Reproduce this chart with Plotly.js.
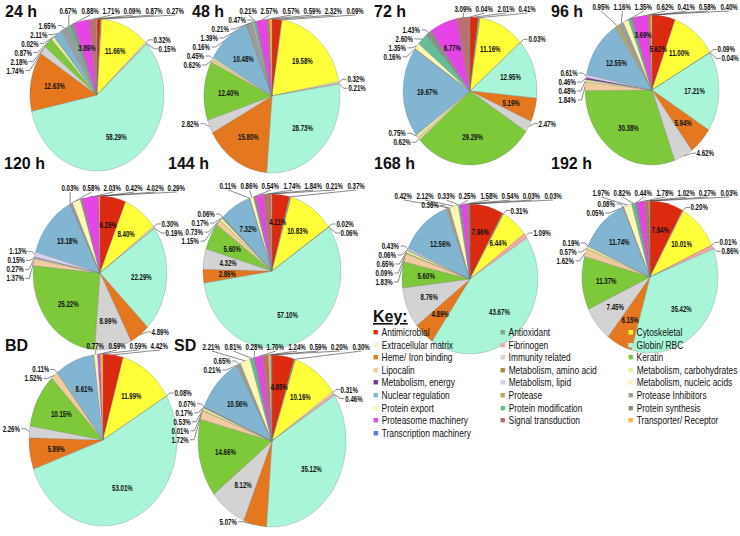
<!DOCTYPE html>
<html><head><meta charset="utf-8">
<script src="https://cdn.plot.ly/plotly-3.0.1.min.js"></script>
<style>html,body{margin:0;padding:0;background:#fff}#chart{width:740px;height:536px}</style>
</head><body><div id="chart"></div>
<script>
// Categories (legend order, row-major in 3 columns)
const categories = ['Antimicrobial','Antioxidant','Cytoskeletal','Extracellular matrix','Fibrinogen','Globin/ RBC',
  'Heme/ Iron binding','Immunity related','Keratin','Lipocalin','Metabolism, amino acid','Metabolism, carbohydrates',
  'Metabolism, energy','Metabolism, lipid','Metabolism, nucleic acids','Nuclear regulation','Protease','Protease Inhibitors',
  'Protein export','Protein modification','Protein synthesis','Proteasome machinery','Signal transduction','Transporter/ Receptor',
  'Transcription machinery'];

// Percent of proteins per category for each sample (null = absent)
const h24  = [0.87,0.27,11.66,0.32,0.15,58.29,12.63,1.74,2.18,null,null,0.87,null,0.02,null,2.11,null,1.65,null,0.67,0.88,3.89,1.71,0.09,null];
const h48  = [2.32,0.09,19.58,0.32,0.21,28.73,15.80,2.82,12.40,0.62,null,0.45,null,null,null,10.48,0.16,1.39,0.21,0.47,0.21,2.57,0.57,0.59,null];
const h72  = [2.01,0.41,11.16,null,0.03,12.95,5.19,2.47,29.29,0.62,null,0.75,null,null,null,19.67,0.16,null,1.35,2.60,1.43,6.77,3.09,0.04,null];
const h96  = [5.62,null,11.00,0.09,0.04,17.21,5.94,4.62,30.38,1.84,null,0.48,0.46,0.61,null,12.55,0.95,1.16,1.35,0.62,0.41,3.69,0.58,0.40,null];
const h120 = [6.25,null,8.40,0.30,0.19,22.29,4.89,8.99,25.22,1.37,null,0.27,0.15,1.13,null,13.18,0.03,0.58,2.03,null,0.42,4.02,null,0.29,null];
const h144 = [4.11,0.37,10.83,0.02,0.06,57.10,2.86,4.32,5.60,1.15,null,0.73,0.17,0.06,null,7.32,0.11,null,0.86,null,0.54,1.74,1.84,0.21,null];
const h168 = [7.96,0.31,6.44,null,1.09,43.67,4.89,8.76,5.60,1.83,0.09,0.65,0.06,0.43,null,12.56,0.38,0.42,2.12,0.33,0.25,1.58,0.54,0.03,0.03];
const h192 = [7.94,0.20,10.01,0.01,0.86,35.42,6.15,7.45,11.37,1.62,null,0.57,null,0.19,null,11.74,0.05,0.08,1.97,0.82,0.44,1.78,1.02,0.27,0.03];
const bd   = [4.42,null,11.99,0.08,null,53.01,5.89,2.26,10.15,1.52,null,0.11,null,null,null,8.61,null,null,0.77,null,null,0.59,null,0.59,null];
const sd   = [4.85,0.30,10.16,0.31,0.46,35.12,5.07,8.12,14.66,1.72,0.01,0.53,0.17,0.07,null,10.56,0.21,0.65,2.21,0.81,0.28,1.70,1.24,0.59,0.20];

const panelNames = ['24 h','48 h','72 h','96 h','120 h','144 h','168 h','192 h','BD','SD'];
const panelValues = [h24,h48,h72,h96,h120,h144,h168,h192,bd,sd];

// ---- styling ----
const colors = ['#dc2a10','#7fa77f','#ffff3a','#eef2cf','#f4a8a8','#a8f5d8',
  '#e5781e','#d3d3d3','#7dc93a','#f2cc9e','#a08c45','#e0f09c',
  '#7a3a8a','#d4d2f0','#faf5b4','#82b5d1','#b3a765','#9c9c9c',
  '#fdf8b2','#62be97','#8c8c8c','#e545e6','#b8716f','#f5b83c',
  '#4e80da'];
const forceOutside = {'96 h':[7], '120 h':[6,21], 'BD':[0], 'SD':[6]};
const forceInside = {'144 h':[6]};

const W = 740, H = 536;
const geom = [
  {cx:97, cy:95, rx:67, ry:76, tx:3,  ty:11},
  {cx:272,cy:96, rx:68, ry:77, tx:190,ty:11},
  {cx:470,cy:91, rx:67, ry:74, tx:372,ty:11},
  {cx:652,cy:90, rx:67, ry:75, tx:549,ty:11},
  {cx:100,cy:273,rx:67, ry:77, tx:2,  ty:163},
  {cx:272,cy:271,rx:69, ry:77, tx:166,ty:163},
  {cx:470,cy:279,rx:68, ry:75, tx:372,ty:163},
  {cx:650,cy:277,rx:68, ry:76, tx:549,ty:163},
  {cx:103,cy:440,rx:74, ry:86, tx:3,  ty:345},
  {cx:272,cy:441,rx:74, ry:86, tx:172,ty:345}
];

const BASE = 'Liberation Sans';
const LBL_SIZE = 8.5, LBL_SX = 0.72;
const KEY_SIZE = 10.5, KEY_SX = 0.8;
const mctx = document.createElement('canvas').getContext('2d');
const measure = (s, font) => { mctx.font = font; return mctx.measureText(s).width; };
const textW = s => measure(s, 'bold ' + LBL_SIZE + 'px "' + BASE + '"') * LBL_SX;
const titleW = s => measure(s, 'bold 16px "' + BASE + '"');
const fmt = v => v.toFixed(2) + '%';

const annotations = [];
const scaled = [];
const lineX = [], lineY = [];
const lblFont = {family: BASE, size: LBL_SIZE, color: '#111', weight: 'bold'};
const P = (x, y) => [x / W, 1 - y / H];

function addText(x, y, txt) {
  const p = P(x, y);
  scaled.push({index: annotations.length, cx: x, sx: LBL_SX});
  annotations.push({xref:'paper', yref:'paper', x:p[0], y:p[1], xanchor:'center', yanchor:'middle',
    showarrow:false, text: txt, font: lblFont});
}
function addLine(pts) {
  pts.forEach(p => { lineX.push(p[0]); lineY.push(p[1]); });
  lineX.push(null); lineY.push(null);
}

function addLabels(vals, g, name) {
  const idx = []; vals.forEach((v, j) => { if (v !== null) idx.push(j); });
  const total = idx.reduce((s, j) => s + vals[j], 0);
  let cum = 0; const outs = [], ins = [];
  idx.forEach(j => {
    const v = vals[j];
    const th = (cum + v / 2) / total * 2 * Math.PI; cum += v;
    let inside = v >= 3.5;
    if ((forceOutside[name] || []).includes(j)) inside = false;
    if ((forceInside[name] || []).includes(j)) inside = true;
    if (inside) {
      ins.push({v, th, k: v > 20 ? 0.62 : 0.64, w: textW(fmt(v))});
    } else {
      outs.push({v, deg: th * 180 / Math.PI, w: textW(fmt(v)),
        hx: g.cx + g.rx * Math.sin(th), hy: g.cy - g.ry * Math.cos(th)});
    }
  });
  // inside labels: separate colliding neighbours radially
  const pos = o => { o.x = g.cx + o.k * g.rx * Math.sin(o.th); o.y = g.cy - o.k * g.ry * Math.cos(o.th); };
  ins.forEach(pos);
  for (let it = 0; it < 12; it++) {
    let moved = false;
    for (let a = 0; a < ins.length; a++) for (let b = a + 1; b < ins.length; b++) {
      const A = ins[a], B = ins[b];
      if (Math.abs(A.x - B.x) < (A.w + B.w) / 2 + 1 && Math.abs(A.y - B.y) < 8) {
        const s = A.v < B.v ? A : B, l = s === A ? B : A;
        if (s.k < 0.86) { s.k += 0.05; moved = true; }
        if (l.k > 0.42) { l.k -= 0.04; moved = true; }
        pos(A); pos(B);
      }
    }
    if (!moved) break;
  }
  ins.forEach(o => addText(o.x, o.y, fmt(o.v)));

  const topY = g.cy - g.ry - 8;
  let lb = Math.max(2, g.cx - g.rx - 14);
  let rb = Math.min(W - 2, g.cx + g.rx + 24);
  geom.forEach(o => {
    if (Math.abs(topY - o.ty) > 11) return;
    if (o === g) lb = Math.max(lb, g.tx + titleW(name) + 4);
    else if (o.tx > g.cx) rb = Math.min(rb, o.tx - 3);
  });
  let top = [], left = [], right = [];
  outs.forEach(o => {
    if (o.deg <= 35 || o.deg >= 325) top.push(o);
    else if (o.deg < 180) right.push(o); else left.push(o);
  });
  top.sort((a, b) => a.hx - b.hx);
  const need = arr => arr.reduce((s, o) => s + o.w + 4, 0);
  while (top.length && need(top) > rb - lb) {
    const a = top[0], b = top[top.length - 1];
    if (a.deg >= 180 && (g.cx - a.hx) >= (b.hx - g.cx)) left.push(top.shift());
    else right.push(top.pop());
  }
  top.forEach(o => { o.lx = o.hx; o.ly = topY; });
  for (let i = 0; i < top.length; i++) {
    const minX = i === 0 ? lb + top[i].w / 2 : top[i-1].lx + (top[i-1].w + top[i].w) / 2 + 4;
    top[i].lx = Math.max(top[i].lx, minX);
  }
  for (let i = top.length - 1; i >= 0; i--) {
    const maxX = i === top.length - 1 ? rb - top[i].w / 2 : top[i+1].lx - (top[i+1].w + top[i].w) / 2 - 4;
    top[i].lx = Math.min(top[i].lx, maxX);
  }
  top.forEach(o => {
    addText(o.lx, o.ly, fmt(o.v));
    addLine([[o.lx, o.ly + 4], [o.hx, o.hy]]);
  });
  const side = (arr, dir) => {
    arr.sort((a, b) => a.hy - b.hy);
    const minY = top.length ? topY + 9 : g.cy - g.ry - 4;
    arr.forEach((o, i) => {
      let y = Math.max(o.hy - 3, minY);
      if (i > 0) y = Math.max(y, arr[i-1].ly + 9);
      o.ly = y;
      const dy = (y - g.cy) / g.ry;
      const hw = Math.abs(dy) < 1 ? g.rx * Math.sqrt(1 - dy * dy) : 0;
      let e;
      if (dir < 0) {
        e = Math.min(g.cx - hw - 9, o.hx - 8);
        if (e - o.w < 1) e = o.w + 1;
        o.lx = e - o.w / 2;
        addLine([[e + 1, y], [e + 5, y], [o.hx, o.hy]]);
      } else {
        e = Math.max(g.cx + hw + 9, o.hx + 8);
        if (e + o.w > W - 1) e = W - 1 - o.w;
        o.lx = e + o.w / 2;
        addLine([[e - 1, y], [e - 5, y], [o.hx, o.hy]]);
      }
      addText(o.lx, y, fmt(o.v));
    });
  };
  side(left, -1); side(right, 1);
}

const pieTraces = panelValues.map((vals, i) => {
  const labels = [], values = [], cols = [];
  vals.forEach((v, j) => {
    if (v !== null) { labels.push(categories[j]); values.push(v); cols.push(colors[j]); }
  });
  const g = geom[i];
  addLabels(vals, g, panelNames[i]);
  return {
    type: 'pie', name: panelNames[i], labels, values, sort: false, direction: 'clockwise', rotation: 0,
    marker: {colors: cols, line: {color: 'rgba(120,120,120,0.55)', width: 0.5}},
    textinfo: 'none',
    domain: {x: [(g.cx - g.rx) / W, (g.cx + g.rx) / W], y: [1 - (g.cy + g.rx) / H, 1 - (g.cy - g.rx) / H]},
    hoverinfo: 'none', showlegend: false
  };
});
const leaderTrace = {type:'scatter', mode:'lines', x: lineX, y: lineY, xaxis:'x', yaxis:'y',
  line:{color:'#3a3a3a', width:0.6}, hoverinfo:'skip', showlegend:false, connectgaps:false};

panelNames.forEach((n, i) => {
  const g = geom[i];
  annotations.push({xref:'paper', yref:'paper', x: g.tx / W, y: 1 - g.ty / H, xanchor:'left', yanchor:'middle',
    text: '<b>' + n + '</b>', showarrow:false, font:{family: BASE, size:16, color:'#111'}});
});
annotations.push({xref:'paper', yref:'paper', x: 371 / W, y: 1 - 316 / H, xanchor:'left', yanchor:'middle',
  text:'<b><u>Key:</u></b>', showarrow:false, font:{family: BASE, size:16, color:'#111'}});
const colX = [371, 498, 626];
categories.forEach((c, k) => {
  const row = Math.floor(k / 3), col = k % 3;
  const y = 1 - (332 + row * 12.6) / H;
  annotations.push({xref:'paper', yref:'paper', x: colX[col] / W, y, xanchor:'left', yanchor:'middle',
    showarrow:false, text:'■', font:{family: BASE, size: 9, color: colors[k]}});
  const tx = colX[col] + 9;
  scaled.push({index: annotations.length, cx: tx, sx: KEY_SX});
  annotations.push({xref:'paper', yref:'paper', x: tx / W, y, xanchor:'left', yanchor:'middle',
    showarrow:false, text: c, font:{family: BASE, size: KEY_SIZE, color:'#111'}});
});

Plotly.newPlot('chart', [leaderTrace, ...pieTraces], {
  width: W, height: H, margin: {l:0, r:0, t:0, b:0},
  paper_bgcolor: '#ffffff', plot_bgcolor: 'rgba(0,0,0,0)', showlegend: false,
  xaxis: {range: [0, W], visible: false, fixedrange: true},
  yaxis: {range: [H, 0], visible: false, fixedrange: true},
  annotations
}, {staticPlot: true, displayModeBar: false}).then(gd => {
  const pies = gd.querySelectorAll('.pielayer .trace');
  pies.forEach((el, i) => {
    const g = geom[i]; if (!g) return;
    const s = g.ry / g.rx;
    const prev = el.getAttribute('transform') || '';
    el.setAttribute('transform', 'matrix(1,0,0,' + s + ',0,' + (g.cy * (1 - s)) + ') ' + prev);
  });
  scaled.forEach(sc => {
    const el = gd.querySelector('g.annotation[data-index="' + sc.index + '"] .annotation-text-g');
    if (el) el.setAttribute('transform', 'translate(' + sc.cx + ',0) scale(' + sc.sx + ',1) translate(' + (-sc.cx) + ',0)');
  });
});
</script></body></html>
